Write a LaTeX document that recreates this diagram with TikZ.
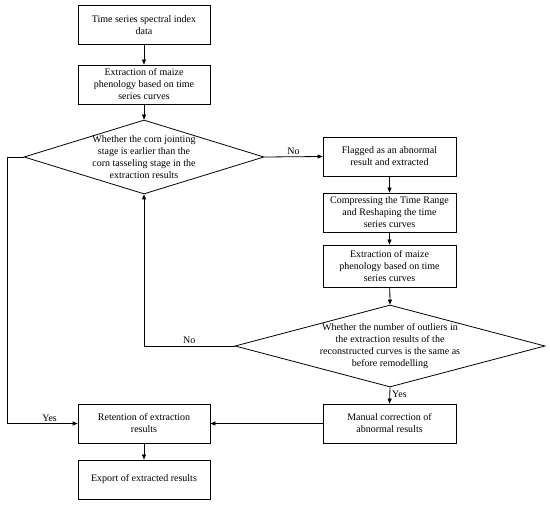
\documentclass[tikz,border=0pt]{standalone}
\usepackage{fontspec}
\setmainfont{Liberation Serif}
\usetikzlibrary{arrows.meta,shapes.geometric}
\begin{document}
\begin{tikzpicture}[x=1pt,y=-1pt,
  box/.style={draw,line width=0.8pt,minimum width=132pt,minimum height=39pt,inner sep=0pt,align=center,font=\fontsize{10}{12}\selectfont},
  dia/.style={draw,line width=0.8pt,shape=diamond,inner sep=0pt},
  dtxt/.style={align=center,inner sep=0pt,font=\fontsize{10}{12}\selectfont},
  lbl/.style={font=\fontsize{10}{12}\selectfont,inner sep=2pt},
  arr/.style={line width=0.8pt,-{Triangle[length=5pt,width=4pt]}},
  ln/.style={line width=0.8pt}]
\useasboundingbox (0,0) rectangle (550,505);
\node[box] (b1) at (144,25) {Time series spectral index\\data};
\node[box] (b2) at (144,84.5) {Extraction of maize\\phenology based on time\\series curves};
\node[dia,minimum width=240pt,minimum height=74pt] (d1) at (144,157) {};
\node[dtxt] at (d1.center) {Whether the corn jointing\\stage is earlier than the\\corn tasseling stage in the\\extraction results};
\node[box,minimum width=133pt] (fl) at (389.5,156.5) {Flagged as an abnormal\\result and extracted};
\node[box,minimum width=133pt] (cp) at (389.5,212.5) {Compressing the Time Range\\and Reshaping the time\\series curves};
\node[box,minimum width=133pt,minimum height=42pt] (e2) at (389.5,266) {Extraction of maize\\phenology based on time\\series curves};
\node[dia,minimum width=310pt,minimum height=82pt] (d2) at (390,346) {};
\node[dtxt] at (d2.center) {Whether the number of outliers in\\the extraction results of the\\reconstructed curves is the same as\\before remodelling};
\node[box] (rt) at (144,423.5) {Retention of extraction\\results};
\node[box,minimum width=133pt] (mc) at (389.5,423.5) {Manual correction of\\abnormal results};
\node[box] (ex) at (144,479.5) {Export of extracted results};
\draw[arr] (b1) -- (b2);
\draw[arr] (b2) -- (d1.north);
\draw[arr] (d1.east) -- node[lbl,above,pos=0.5]{No} (fl.west);
\draw[arr] (fl) -- (cp);
\draw[arr] (cp) -- (e2);
\draw[arr] (e2) -- (d2.north);
\draw[arr] (d2.south) -- node[lbl,right,pos=0.45]{Yes} (mc.north);
\draw[arr] (mc.west) -- (rt.east);
\draw[arr] (rt) -- (ex);
\draw[arr] (d1.west) -- ++(-16,0) |- node[lbl,above,pos=0.8]{Yes} (rt.west);
\draw[arr] (d2.west) -| node[lbl,above,pos=0.25]{No} (d1.south);
\end{tikzpicture}
\end{document}
